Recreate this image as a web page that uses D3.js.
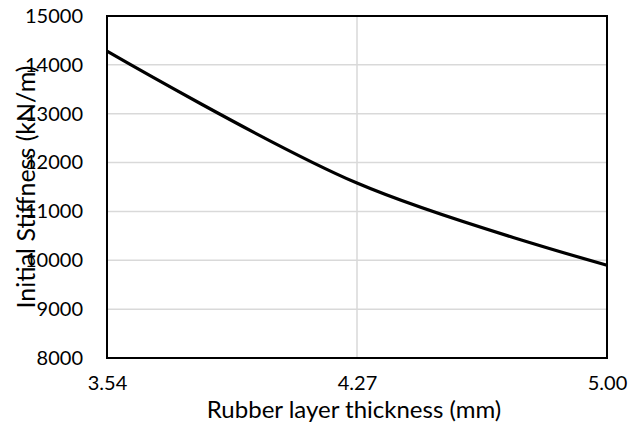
<!DOCTYPE html>
<html>
<head>
<meta charset="utf-8">
<script src="https://cdn.jsdelivr.net/npm/d3@7"></script>
<style>
  body { margin: 0; background: #fff; }
  text { font-family: Lato, "Open Sans", sans-serif; fill: #000; }
</style>
</head>
<body>
<div class="chart"></div>
<script>
var thickness = ["3.54", "4.27", "5.00"];
var stiffness = [14280, 11580, 9900];
var yTicks = [8000, 9000, 10000, 11000, 12000, 13000, 14000, 15000];

var width = 630, height = 425;
var margin = {top: 16, right: 23, bottom: 67, left: 107};

var svg = d3.select(".chart").append("svg")
    .attr("width", width)
    .attr("height", height);

var x = d3.scalePoint()
    .domain(thickness)
    .range([margin.left, width - margin.right]);

var y = d3.scaleLinear()
    .domain([8000, 15000])
    .range([height - margin.bottom, margin.top]);

// gridlines
svg.append("g")
    .selectAll("line")
    .data(yTicks)
    .enter().append("line")
    .attr("x1", margin.left)
    .attr("x2", width - margin.right)
    .attr("y1", function(d) { return y(d); })
    .attr("y2", function(d) { return y(d); })
    .attr("stroke", "#d9d9d9")
    .attr("stroke-width", 1.5);

svg.append("g")
    .selectAll("line")
    .data(thickness)
    .enter().append("line")
    .attr("x1", function(d) { return x(d); })
    .attr("x2", function(d) { return x(d); })
    .attr("y1", margin.top)
    .attr("y2", height - margin.bottom)
    .attr("stroke", "#d9d9d9")
    .attr("stroke-width", 1.5);

// plot border
svg.append("rect")
    .attr("x", margin.left)
    .attr("y", margin.top)
    .attr("width", width - margin.left - margin.right)
    .attr("height", height - margin.top - margin.bottom)
    .attr("fill", "none")
    .attr("stroke", "#000")
    .attr("stroke-width", 2);

// axes
var yAxis = svg.append("g")
    .attr("transform", "translate(" + margin.left + ",0)")
    .call(d3.axisLeft(y).tickValues(yTicks).tickSize(0).tickPadding(24).tickFormat(d3.format("d")));
yAxis.select(".domain").remove();
yAxis.selectAll("text").style("font-size", "20px").style("font-family", "Lato, sans-serif");

var xAxis = svg.append("g")
    .attr("transform", "translate(0," + (height - margin.bottom) + ")")
    .call(d3.axisBottom(x).tickSize(0).tickPadding(18));
xAxis.select(".domain").remove();
xAxis.selectAll("text").style("font-size", "20px").style("font-family", "Lato, sans-serif");

// line
var line = d3.line()
    .x(function(d, i) { return x(thickness[i]); })
    .y(function(d) { return y(d); })
    .curve(d3.curveCardinal.tension(0));

svg.append("path")
    .datum(stiffness)
    .attr("d", line)
    .attr("fill", "none")
    .attr("stroke", "#000")
    .attr("stroke-width", 3.2);

// titles
svg.append("text")
    .attr("x", 354)
    .attr("y", 418)
    .attr("text-anchor", "middle")
    .style("font-size", "24px")
    .text("Rubber layer thickness (mm)");

svg.append("text")
    .attr("transform", "translate(35," + ((margin.top + height - margin.bottom) / 2) + ") rotate(-90)")
    .attr("text-anchor", "middle")
    .style("font-size", "25px")
    .text("Initial Stiffness (kN/m)");
</script>
</body>
</html>
